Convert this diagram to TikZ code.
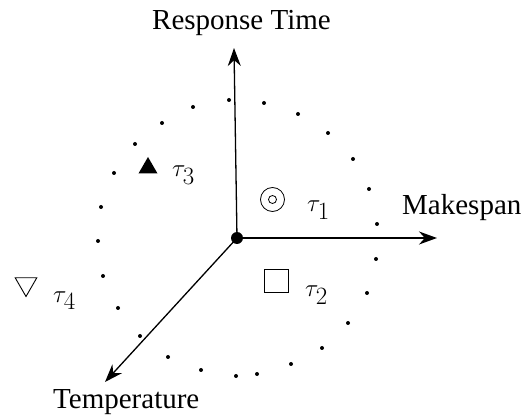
\documentclass[tikz,border=0pt]{standalone}
\usepackage[no-math]{fontspec}
\setmainfont{Liberation Serif}
\usetikzlibrary{arrows.meta,shapes.geometric}
\begin{document}
\begin{tikzpicture}[x=1pt,y=-1pt,
 axis/.style={line width=1.3pt,-{Stealth[length=18pt,width=13pt]}},
 lbl/.style={font=\fontsize{29}{34}\selectfont,inner sep=0pt,anchor=base west},
 tau/.style={font=\fontsize{36}{42}\selectfont,inner sep=0pt,anchor=base west},
 dotm/.style={circle,fill,inner sep=0pt,minimum size=4pt}]
\useasboundingbox (0,0) rectangle (523,417);
% dotted ring
\foreach \p [count=\i] in {(229,100),(264,103),(298,114),(328,133),(353,159),(369,189),(377,224),(376,259),(367,293),(348,323),(322,348),(291,364),(257,374),(236,376),(201,370),(168,357),(140,336),(118,308),(103,276),(98,241),(101,207),(114,173),(135,144),(162,123),(193,107)}
  \node[dotm] (d\i) at \p {};
% axes
\node[circle,fill,inner sep=0pt,minimum size=12pt] (o) at (237,238) {};
\coordinate (up) at (234,48);
\coordinate (rt) at (437,238);
\coordinate (dl) at (105,382);
\draw[axis] (o.center) -- (up);
\draw[axis] (o.center) -- (rt);
\draw[axis] (o.center) -- (dl);
% axis labels
\node[lbl] (rtime) at (152,30) {Response Time};
\node[lbl] (mk) at (402,215) {Makespan};
\node[lbl] (temp) at (53,408) {Temperature};
% markers
\node[circle,draw,line width=0.8pt,minimum size=24pt,inner sep=0pt] (c1) at (272.5,199.5) {};
\node[circle,draw,line width=0.8pt,minimum size=8pt,inner sep=0pt] at (c1.center) {};
\node[draw,line width=0.8pt,minimum width=24pt,minimum height=23pt,inner sep=0pt] (sq) at (276.5,281) {};
\node[regular polygon,regular polygon sides=3,fill,inner sep=0pt,minimum size=22pt] (tri) at (148,168) {};
\node[regular polygon,regular polygon sides=3,shape border rotate=180,draw,line width=0.9pt,inner sep=0pt,minimum size=25pt] (itri) at (26,284) {};
% task labels
\node[tau] (t1) at (307,212) {$\tau_1$};
\node[tau] (t2) at (305,297) {$\tau_2$};
\node[tau] (t3) at (172,177) {$\tau_3$};
\node[tau] (t4) at (53,302) {$\tau_4$};
\end{tikzpicture}
\end{document}
